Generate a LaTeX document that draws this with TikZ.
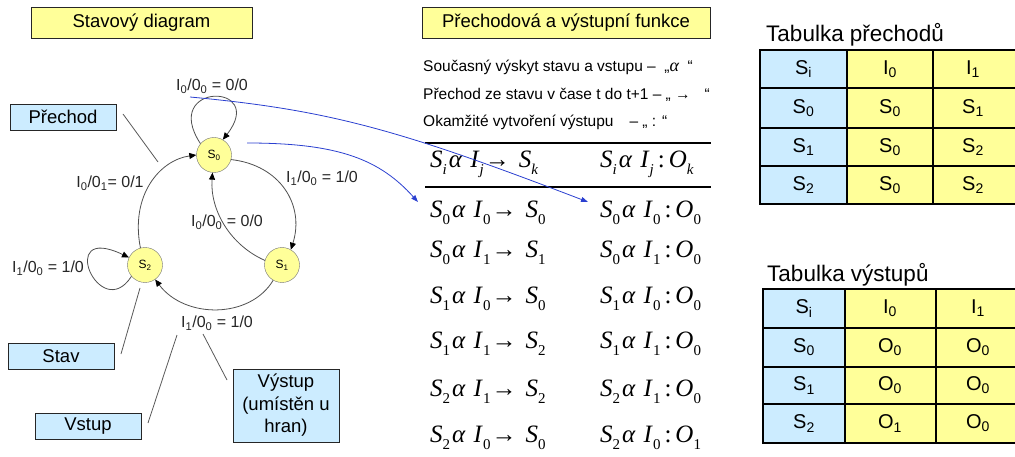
\documentclass[tikz,border=0pt]{standalone}
\usepackage{fontspec}
\setmainfont{Liberation Sans}
\newfontfamily\tnr{Liberation Serif}
\usetikzlibrary{arrows.meta}
\definecolor{boxyellow}{HTML}{FFFF99}
\definecolor{boxblue}{HTML}{CCECFF}
\definecolor{linkblue}{HTML}{2A3FD0}
\definecolor{edgegray}{HTML}{505050}
\newcommand\fs[1]{\fontsize{#1}{#1}\selectfont}
\newcommand\sbx[1]{\raisebox{-0.28em}{\fs{15}#1}}
\newcommand\trans[3]{{\tnr\fs{25}\textit{S}\sbx{#1}\kern2pt\textit{α}\kern8pt\textit{I}\sbx{#2}\kern1pt→\kern9pt\textit{S}\sbx{#3}}}
\newcommand\outp[3]{{\tnr\fs{25}\textit{S}\sbx{#1}\kern2pt\textit{α}\kern8pt\textit{I}\sbx{#2}\kern4pt:\kern4pt\textit{O}\sbx{#3}}}
\begin{document}
\begin{tikzpicture}[x=1pt,y=-1pt,
  titlebox/.style={draw=black!85, fill=boxyellow, font=\fs{18.5}, inner sep=0pt, minimum height=31pt},
  callout/.style={draw=black!85, fill=boxblue, font=\fs{18.5}, inner sep=0pt, minimum height=26pt, minimum width=106pt},
  state/.style={circle, draw=black!55, fill=boxyellow, minimum size=35pt, inner sep=0pt, font=\fs{12}},
  edge/.style={draw=edgegray, line width=0.8pt, -{Triangle[length=7pt,width=6pt,color=black]}},
  elabel/.style={font=\fs{16}, text=black!85, inner sep=0pt},
  note/.style={draw=black!65, line width=0.8pt},
  link/.style={draw=linkblue, line width=0.8pt, -{Triangle[length=7pt,width=5pt]}},
  txt/.style={font=\fs{15.5}, inner sep=0pt, anchor=base west},
  frm/.style={inner sep=0pt, anchor=west},
  cell/.style={font=\fs{20}, inner sep=0pt},
  ttitle/.style={font=\fs{22.5}, inner sep=0pt, anchor=base west},
  rule/.style={draw=black, line width=1.6pt},
  outer/.style={draw=black, line width=2.2pt},
  inner/.style={draw=black, line width=1.3pt}
]
\useasboundingbox (0,0) rectangle (1015,457);
\clip (0,0) rectangle (1015,457);

% ---------- titles ----------
\node[titlebox, minimum width=221pt] (tdiag) at (141.5,22.5) {Stavový diagram};
\node[titlebox, minimum width=288pt] (tfun) at (566,22.5) {Přechodová a výstupní funkce};

% ---------- states ----------
\node[state] (s0) at (214,155) {S\textsubscript{0}};
\node[state] (s1) at (282,265) {S\textsubscript{1}};
\node[state] (s2) at (145,265) {S\textsubscript{2}};

% ---------- edges ----------
\draw[edge] (s0.140) .. controls (160,82) and (268,82) .. (s0.60);
\draw[edge] (s0.-15) .. controls (280,165) and (305,205) .. (s1.60);
\draw[edge] (s1.165) .. controls (230,245) and (210,210) .. (s0.-95);
\draw[edge] (s1.-120) .. controls (250,319) and (185,319) .. (s2.-55);
\draw[edge] (s2.105) .. controls (130,195) and (160,160) .. (s0.180);
\draw[edge] (s2.-140) .. controls (100,325) and (55,222) .. (s2.155);

\node[elabel] (l00) at (212,86) {I\textsubscript{0}/0\textsubscript{0} = 0/0};
\node[elabel] (l01) at (322,178) {I\textsubscript{1}/0\textsubscript{0} = 1/0};
\node[elabel] (l10) at (227,222) {I\textsubscript{0}/0\textsubscript{0} = 0/0};
\node[elabel] (l12) at (217,323) {I\textsubscript{1}/0\textsubscript{0} = 1/0};
\node[elabel] (l20) at (110,183) {I\textsubscript{0}/0\textsubscript{1}= 0/1};
\node[elabel] (l22) at (48,268) {I\textsubscript{1}/0\textsubscript{0} = 1/0};

% ---------- callouts ----------
\node[callout] (prechod) at (63,117) {Přechod};
\node[callout] (stav) at (61,356) {Stav};
\node[callout] (vstup) at (88,426) {Vstup};
\node[callout, minimum height=73pt, align=center, font=\fontsize{18.5}{22.5}\selectfont] (vystup) at (286,405.5) {Výstup\\(umístěn u\\hran)};

\coordinate (pa) at (123,114); \coordinate (pb) at (158,162);
\coordinate (sa) at (140,288); \coordinate (sb) at (121,354);
\coordinate (va) at (177,335); \coordinate (vb) at (148,423);
\coordinate (ya) at (203,334); \coordinate (yb) at (227,380);
\draw[note] (pa) -- (pb);
\draw[note] (sa) -- (sb);
\draw[note] (va) -- (vb);
\draw[note] (ya) -- (yb);

% ---------- middle text ----------
\node[txt] (d1) at (423,72) {Současný výskyt stavu a vstupu –\ \ „{\tnr\itshape\fs{18}α}\ \ “};
\node[txt] (d2) at (423,100) {Přechod ze stavu v čase t do t+1 – „ →\hspace{14pt}“};
\node[txt] (d3) at (423,127) {Okamžité vytvoření výstupu\hspace{16pt}– „ : “};

\coordinate (r1a) at (425,143); \coordinate (r1b) at (711,143);
\coordinate (r2a) at (425,187); \coordinate (r2b) at (711,187);
\draw[rule] (r1a) -- (r1b);
\draw[rule] (r2a) -- (r2b);

\node[frm] (hl) at (430,164) {{\tnr\fs{25}\textit{S}\sbx{\textit{i}}\kern2pt\textit{α}\kern8pt\textit{I}\sbx{\textit{j}}\kern1pt→\kern9pt\textit{S}\sbx{\textit{k}}}};
\node[frm] (hr) at (600,164) {{\tnr\fs{25}\textit{S}\sbx{\textit{i}}\kern2pt\textit{α}\kern8pt\textit{I}\sbx{\textit{j}}\kern4pt:\kern4pt\textit{O}\sbx{\textit{k}}}};

\node[frm] (f1l) at (430,213) {\trans{0}{0}{0}};
\node[frm] (f1r) at (600,213) {\outp{0}{0}{0}};
\node[frm] (f2l) at (430,253) {\trans{0}{1}{1}};
\node[frm] (f2r) at (600,253) {\outp{0}{1}{0}};
\node[frm] (f3l) at (430,299) {\trans{1}{0}{0}};
\node[frm] (f3r) at (600,299) {\outp{1}{0}{0}};
\node[frm] (f4l) at (430,344) {\trans{1}{1}{2}};
\node[frm] (f4r) at (600,344) {\outp{1}{1}{0}};
\node[frm] (f5l) at (430,392) {\trans{2}{1}{2}};
\node[frm] (f5r) at (600,392) {\outp{2}{1}{0}};
\node[frm] (f6l) at (430,438) {\trans{2}{0}{0}};
\node[frm] (f6r) at (600,438) {\outp{2}{0}{1}};

% ---------- blue links ----------
\coordinate (b1s) at (190,97); \coordinate (b1e) at (588,202);
\coordinate (b2s) at (247,143); \coordinate (b2e) at (418,202);
\draw[link] (b1s) .. controls (330,110) and (400,130) .. (b1e);
\draw[link] (b2s) .. controls (340,143) and (380,160) .. (b2e);

% ---------- table 1 ----------
\node[ttitle] (tt1) at (766,42) {Tabulka přechodů};
\fill[boxblue] (760,50) rectangle (847,204);
\fill[boxyellow] (847,50) rectangle (1022,204);
\draw[inner] (760,128) -- (1022,128) (760,166) -- (1022,166) (847,50) -- (847,204) (933,50) -- (933,204);
\draw[outer] (760,88) -- (1022,88);
\draw[outer] (760,50) rectangle (1022,204);
\node[cell] (a00) at (803.5,69) {S\textsubscript{i}};
\node[cell] (a01) at (890,69) {I\textsubscript{0}};
\node[cell] (a02) at (973,69) {I\textsubscript{1}};
\node[cell] (a10) at (803.5,108) {S\textsubscript{0}};
\node[cell] (a11) at (890,108) {S\textsubscript{0}};
\node[cell] (a12) at (973,108) {S\textsubscript{1}};
\node[cell] (a20) at (803.5,147) {S\textsubscript{1}};
\node[cell] (a21) at (890,147) {S\textsubscript{0}};
\node[cell] (a22) at (973,147) {S\textsubscript{2}};
\node[cell] (a30) at (803.5,185) {S\textsubscript{2}};
\node[cell] (a31) at (890,185) {S\textsubscript{0}};
\node[cell] (a32) at (973,185) {S\textsubscript{2}};

% ---------- table 2 ----------
\node[ttitle] (tt2) at (767,281) {Tabulka výstupů};
\fill[boxblue] (763,289) rectangle (845,443);
\fill[boxyellow] (845,289) rectangle (1022,443);
\draw[inner] (763,367) -- (1022,367) (763,404) -- (1022,404) (845,289) -- (845,443) (936,289) -- (936,443);
\draw[outer] (763,328) -- (1022,328);
\draw[outer] (763,289) rectangle (1022,443);
\node[cell] (b00) at (804,308.5) {S\textsubscript{i}};
\node[cell] (b01) at (890,308.5) {I\textsubscript{0}};
\node[cell] (b02) at (978,308.5) {I\textsubscript{1}};
\node[cell] (b10) at (804,347.5) {S\textsubscript{0}};
\node[cell] (b11) at (890,347.5) {O\textsubscript{0}};
\node[cell] (b12) at (978,347.5) {O\textsubscript{0}};
\node[cell] (b20) at (804,385.5) {S\textsubscript{1}};
\node[cell] (b21) at (890,385.5) {O\textsubscript{0}};
\node[cell] (b22) at (978,385.5) {O\textsubscript{0}};
\node[cell] (b30) at (804,423.5) {S\textsubscript{2}};
\node[cell] (b31) at (890,423.5) {O\textsubscript{1}};
\node[cell] (b32) at (978,423.5) {O\textsubscript{0}};
\end{tikzpicture}
\end{document}
